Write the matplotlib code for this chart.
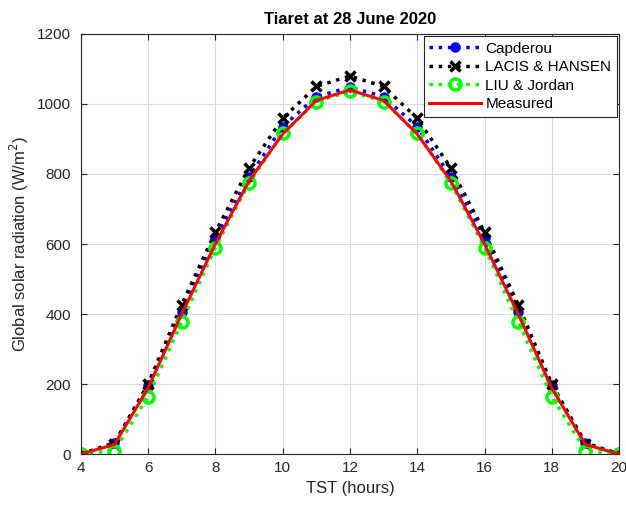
import matplotlib.pyplot as plt
import numpy as np

plt.rcParams['font.family'] = ['Liberation Sans', 'DejaVu Sans']

hours = np.arange(4, 21)
capderou = [0, 32, 197, 407, 617, 792, 935, 1021, 1048, 1021, 935, 792, 617, 407, 197, 32, 0]
lacis = [0, 30, 200, 427, 634, 817, 959, 1050, 1080, 1050, 959, 817, 634, 427, 200, 30, 0]
liu = [0, 10, 164, 378, 590, 774, 916, 1007, 1036, 1007, 916, 774, 590, 378, 164, 10, 0]
measured = [0, 27, 188, 400, 600, 780, 914, 1010, 1040, 1010, 914, 780, 600, 400, 188, 27, 0]

fig = plt.figure(figsize=(6.26, 5.11), dpi=100)
ax = fig.add_axes([0.129, 0.1115, 0.86, 0.822])

ax.plot(hours, capderou, ':', color='blue', lw=2.5, marker='o', ms=6.5,
        label='Capderou')
ax.plot(hours, lacis, ':', color='black', lw=2.5, marker='x', ms=6.5,
        mew=2.5, label='LACIS & HANSEN')
ax.plot(hours, liu, ':', color='#00ff00', lw=2.5, marker='o', ms=8,
        mfc='none', mew=2.5, label='LIU & Jordan')
ax.plot(hours, measured, '-', color='red', lw=2.2, label='Measured')

ax.set_xlim(4, 20)
ax.set_ylim(0, 1200)
ax.set_xticks(np.arange(4, 21, 2))
ax.set_yticks(np.arange(0, 1201, 200))
ax.grid(True, color='#dcdcdc', lw=0.8)
ax.set_axisbelow(True)
ax.tick_params(direction='in', labelsize=11, top=True, right=True,
               colors='#262626', length=4)
ax.tick_params(axis='y', pad=7)
ax.tick_params(axis='x', pad=5)
for s in ax.spines.values():
    s.set_color('#262626')
    s.set_linewidth(0.8)

ax.set_xlabel('TST (hours)', fontsize=12, color='#262626')
ax.set_ylabel('Global solar radiation (W/m$^2$)', fontsize=12, color='#262626')
ax.set_title('Tiaret at 28 June 2020', fontsize=12, fontweight='bold', pad=7)

leg = ax.legend(loc='upper right', fontsize=11, fancybox=False,
                edgecolor='#262626', framealpha=1, borderaxespad=0.15,
                handlelength=3.4, handletextpad=0.3, labelspacing=0.3,
                borderpad=0.35)
leg.get_frame().set_linewidth(0.8)

fig.savefig('out.png', dpi=100)
